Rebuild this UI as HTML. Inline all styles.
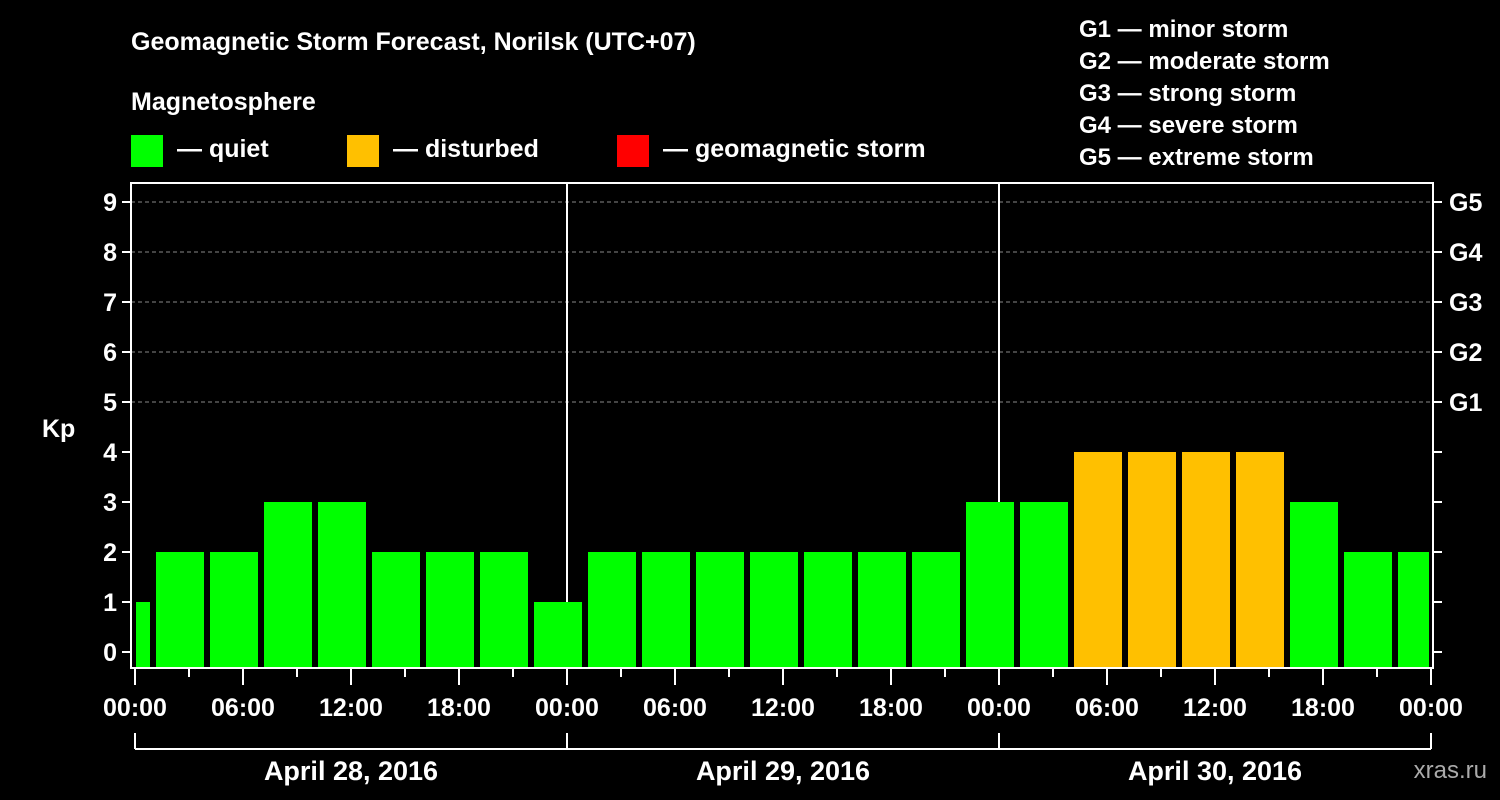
<!DOCTYPE html>
<html><head><meta charset="utf-8"><style>
html,body{margin:0;padding:0;background:#000;}
svg{display:block;font-family:"Liberation Sans",Arial,sans-serif;font-weight:bold;}
</style></head><body>
<svg id="chart" width="1500" height="800" viewBox="0 0 1500 800">
<rect width="1500" height="800" fill="#000"/>
<text x="131" y="50" fill="#fff" font-size="25">Geomagnetic Storm Forecast, Norilsk (UTC+07)</text>
<text x="131" y="110" fill="#fff" font-size="25">Magnetosphere</text>
<g><rect x="131" y="135" width="32" height="32" fill="#00ff00"/><text x="177" y="157" fill="#fff" font-size="25">— quiet</text></g>
<g><rect x="347" y="135" width="32" height="32" fill="#ffc000"/><text x="393" y="157" fill="#fff" font-size="25">— disturbed</text></g>
<g><rect x="617" y="135" width="32" height="32" fill="#ff0000"/><text x="663" y="157" fill="#fff" font-size="25">— geomagnetic storm</text></g>
<g fill="#fff" font-size="24">
<text x="1079" y="37">G1 — minor storm</text>
<text x="1079" y="69">G2 — moderate storm</text>
<text x="1079" y="101">G3 — strong storm</text>
<text x="1079" y="133">G4 — severe storm</text>
<text x="1079" y="165">G5 — extreme storm</text>
</g>
<text x="42" y="437" fill="#fff" font-size="25">Kp</text>
<g id="grid"></g><g id="bars"></g><g id="axes"></g>
<text x="1487" y="778" fill="#aaa" font-size="24" text-anchor="end" font-weight="normal">xras.ru</text>
</svg>
<script>
const kpValues=[1,2,2,3,3,2,2,2,1,2,2,2,2,2,2,2,3,3,4,4,4,4,3,2,2];
const barStartHours=[-2,1,4,7,10,13,16,19,22,25,28,31,34,37,40,43,46,49,52,55,58,61,64,67,70];
const yTicks=[0,1,2,3,4,5,6,7,8,9];
const gLabels=["G1","G2","G3","G4","G5"];
const xTickLabels=["00:00","06:00","12:00","18:00","00:00","06:00","12:00","18:00","00:00","06:00","12:00","18:00","00:00"];
const dayLabels=["April 28, 2016","April 29, 2016","April 30, 2016"];
const NS="http://www.w3.org/2000/svg";
const X0=135,PXH=18,Y0=652,PXK=50,L=131,R=1433,T=183,B=668,HMAX=72;
const xs=h=>X0+h*PXH, ys=k=>Y0-k*PXK;
function mk(tag,attrs,parent){const e=document.createElementNS(NS,tag);for(const k in attrs)e.setAttribute(k,attrs[k]);parent.appendChild(e);return e;}
const grid=document.getElementById('grid'),bars=document.getElementById('bars'),axes=document.getElementById('axes');
yTicks.forEach(k=>{if(k>=5){const g=mk('line',{x1:L,x2:R,y1:ys(k),y2:ys(k),stroke:'#888','stroke-dasharray':'4,3','stroke-width':1},grid);

}});
[1,2].forEach(d=>{const l=mk('line',{x1:xs(24*d),x2:xs(24*d),y1:T,y2:B,stroke:'#fff','stroke-width':2},grid);

});
kpValues.forEach((v,i)=>{let h0=Math.max(barStartHours[i],0),h1=Math.min(barStartHours[i]+3,HMAX);
let x0=xs(h0)+(barStartHours[i]<0?1:3),x1=xs(h1)-(barStartHours[i]+3>HMAX?2:3);
const r=mk('rect',{x:x0,y:ys(v),width:x1-x0,height:B-ys(v),fill:v>=5?'#ff0000':(v>=4?'#ffc000':'#00ff00')},bars);

});
const fr=mk('rect',{x:L,y:T,width:R-L,height:B-T,fill:'none',stroke:'#fff','stroke-width':2},axes);


yTicks.forEach(k=>{mk('line',{x1:L-9,x2:L,y1:ys(k),y2:ys(k),stroke:'#fff','stroke-width':2},axes);
mk('line',{x1:R,x2:R+9,y1:ys(k),y2:ys(k),stroke:'#fff','stroke-width':2},axes);
const t=mk('text',{x:L-14,y:ys(k)+9,fill:'#fff','font-size':25,'text-anchor':'end'},axes);t.textContent=k;

});
gLabels.forEach((g,i)=>{const t=mk('text',{x:1449,y:ys(5+i)+9,fill:'#fff','font-size':25},axes);t.textContent=g;

});
for(let h=0;h<=HMAX;h+=3){const major=h%6===0;mk('line',{x1:xs(h),x2:xs(h),y1:B,y2:major?685:677,stroke:'#fff','stroke-width':2},axes);}
xTickLabels.forEach((s,i)=>{const t=mk('text',{x:xs(i*6),y:716,fill:'#fff','font-size':25,'text-anchor':'middle'},axes);t.textContent=s;

});
mk('line',{x1:xs(0),x2:xs(HMAX),y1:749,y2:749,stroke:'#fff','stroke-width':2},axes);
for(let d=0;d<=3;d++)mk('line',{x1:xs(24*d),x2:xs(24*d),y1:733,y2:749,stroke:'#fff','stroke-width':2},axes);
dayLabels.forEach((s,i)=>{const t=mk('text',{x:xs(24*i+12),y:780,fill:'#fff','font-size':27,'text-anchor':'middle'},axes);t.textContent=s;

});
</script>
</body></html>
